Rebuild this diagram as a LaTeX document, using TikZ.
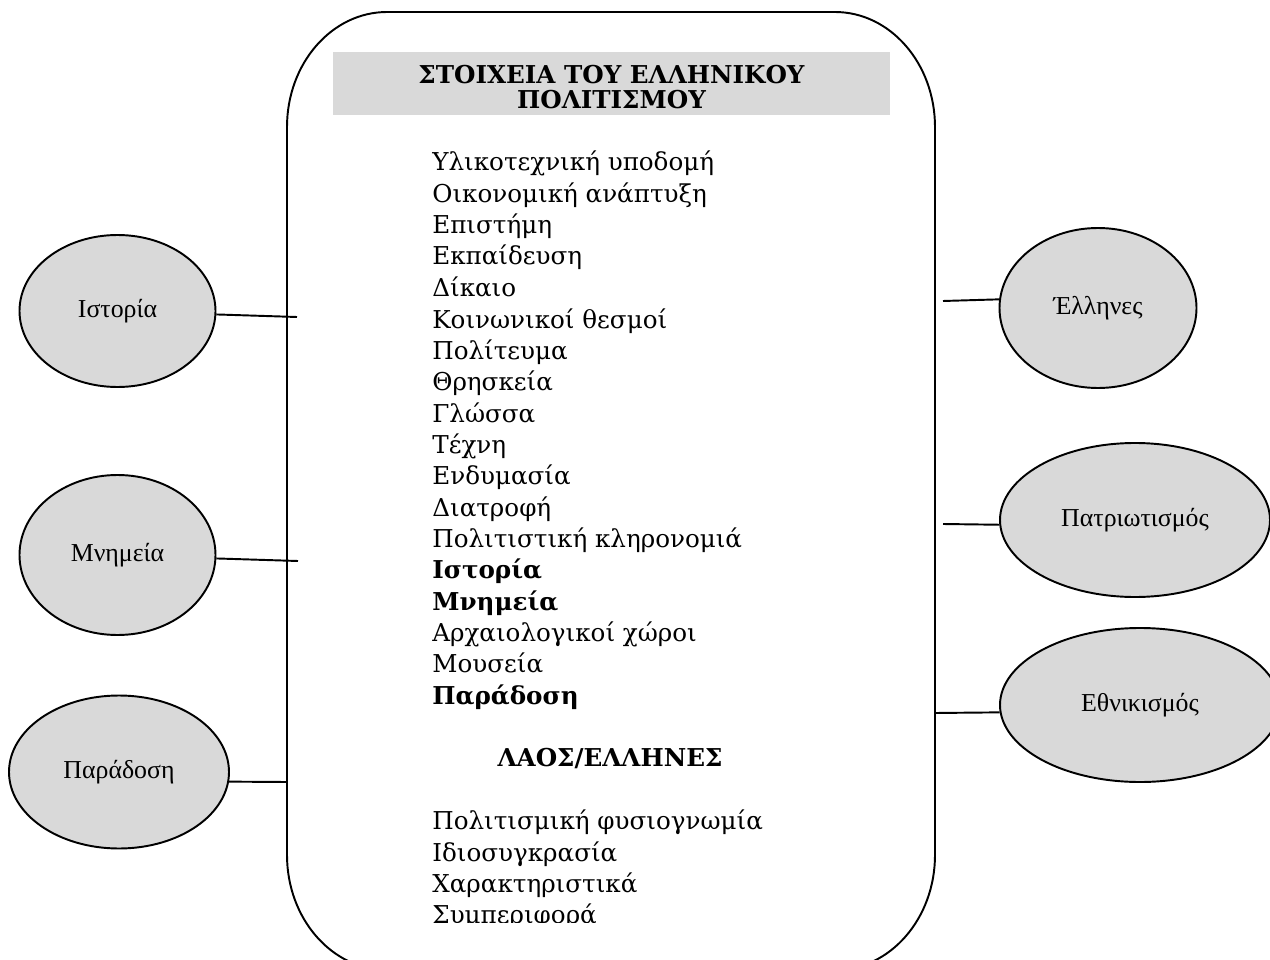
\documentclass[tikz,border=0pt]{standalone}
\usepackage{fontspec}
\setmainfont{DejaVu Serif}
\newfontfamily\ovalfont{Liberation Serif}
\usetikzlibrary{shapes.geometric}
\definecolor{boxgray}{RGB}{217,217,217}

\begin{document}
\begin{tikzpicture}[
    oval/.style={ellipse, draw, line width=1.1pt, fill=boxgray, inner sep=0pt,
      font=\ovalfont\fontsize{14.7}{17}\selectfont},
    item/.style={anchor=base west, inner sep=0pt, font=\fontsize{14}{17}\selectfont},
    bolditem/.style={item, font=\fontsize{14}{17}\selectfont\bfseries},
    link/.style={line width=1.1pt}
  ]
  \useasboundingbox (0,0) rectangle (25.4,-19.2);

  % frame
  \draw[line width=1.1pt] (5.74,-2.54) arc[start angle=180, end angle=90, x radius=2, y radius=2.3]
    -- (16.70,-0.24) arc[start angle=90, end angle=0, x radius=2, y radius=2.3]
    -- (18.70,-17.10) arc[start angle=0, end angle=-90, x radius=2, y radius=2.3]
    -- (7.74,-19.40) arc[start angle=-90, end angle=-180, x radius=2, y radius=2.3]
    -- cycle;

  % title
  \node[fill=boxgray, minimum width=11.14cm, minimum height=1.26cm] (head) at (12.23,-1.67) {};
  \node[align=center, inner sep=0pt, font=\fontsize{14}{14.6}\selectfont\bfseries] (title)
    at (12.23,-1.74) {ΣΤΟΙΧΕΙΑ ΤΟΥ ΕΛΛΗΝΙΚΟΥ\\ΠΟΛΙΤΙΣΜΟΥ};

  % elements
  \node[item] (ylik) at (8.64,-3.42) {Υλικοτεχνική υποδομή};
  \node[item] (oikon) at (8.64,-4.05) {Οικονομική ανάπτυξη};
  \node[item] (epist) at (8.64,-4.67) {Επιστήμη};
  \node[item] (ekp) at (8.64,-5.30) {Εκπαίδευση};
  \node[item] (dik) at (8.64,-5.93) {Δίκαιο};
  \node[item] (thesm) at (8.64,-6.56) {Κοινωνικοί θεσμοί};
  \node[item] (polit) at (8.64,-7.18) {Πολίτευμα};
  \node[item] (thrisk) at (8.64,-7.81) {Θρησκεία};
  \node[item] (gloss) at (8.64,-8.44) {Γλώσσα};
  \node[item] (techn) at (8.64,-9.06) {Τέχνη};
  \node[item] (endym) at (8.64,-9.69) {Ενδυμασία};
  \node[item] (diatr) at (8.64,-10.32) {Διατροφή};
  \node[item] (klir) at (8.64,-10.94) {Πολιτιστική κληρονομιά};
  \node[bolditem] (istoriaitem) at (8.64,-11.57) {Ιστορία};
  \node[bolditem] (mnimeiaitem) at (8.64,-12.20) {Μνημεία};
  \node[item] (archaiol) at (8.64,-12.83) {Αρχαιολογικοί χώροι};
  \node[item] (mous) at (8.64,-13.45) {Μουσεία};
  \node[bolditem] (paradosiitem) at (8.64,-14.08) {Παράδοση};

  % people
  \node[anchor=base, inner sep=0pt, font=\fontsize{14}{17}\selectfont\bfseries] (laos) at (12.20,-15.32) {ΛΑΟΣ/ΕΛΛΗΝΕΣ};
  \begin{scope}
    \clip (5.74,-16.0) rectangle (18.70,-18.45);
    \node[item] (fysiogn) at (8.64,-16.59) {Πολιτισμική φυσιογνωμία};
    \node[item] (idiosyg) at (8.64,-17.22) {Ιδιοσυγκρασία};
    \node[item] (charakt) at (8.64,-17.84) {Χαρακτηριστικά};
    \node[item] (symper) at (8.64,-18.47) {Συμπεριφορά};
  \end{scope}

  % left ovals
  \node[oval, minimum width=3.92cm, minimum height=3.04cm] (istoria) at (2.35,-6.22) {Ιστορία};
  \node[oval, minimum width=3.92cm, minimum height=3.20cm] (mnimeia) at (2.35,-11.10) {Μνημεία};
  \node[oval, minimum width=4.40cm, minimum height=3.06cm] (paradosi) at (2.38,-15.44) {Παράδοση};
  \coordinate (istoriaend) at (5.94,-6.34);
  \coordinate (mnimeiaend) at (5.96,-11.22);
  \coordinate (paradosiend) at (5.74,-15.64);
  \draw[link] (istoria.-2) -- (istoriaend);
  \draw[link] (mnimeia.-2) -- (mnimeiaend);
  \draw[link] (paradosi.-5) -- (paradosiend);

  % right ovals
  \node[oval, minimum width=3.94cm, minimum height=3.20cm] (ellines) at (21.96,-6.16) {Έλληνες};
  \node[oval, minimum width=5.40cm, minimum height=3.08cm] (patriot) at (22.70,-10.40) {Πατριωτισμός};
  \node[oval, minimum width=5.60cm, minimum height=3.08cm] (ethnik) at (22.80,-14.10) {Εθνικισμός};
  \coordinate (ellinesend) at (18.86,-6.02);
  \coordinate (patriotend) at (18.86,-10.48);
  \coordinate (ethnikend) at (18.70,-14.26);
  \draw[link] (ellinesend) -- (ellines.175);
  \draw[link] (patriotend) -- (patriot.182);
  \draw[link] (ethnikend) -- (ethnik.183);
\end{tikzpicture}
\end{document}
